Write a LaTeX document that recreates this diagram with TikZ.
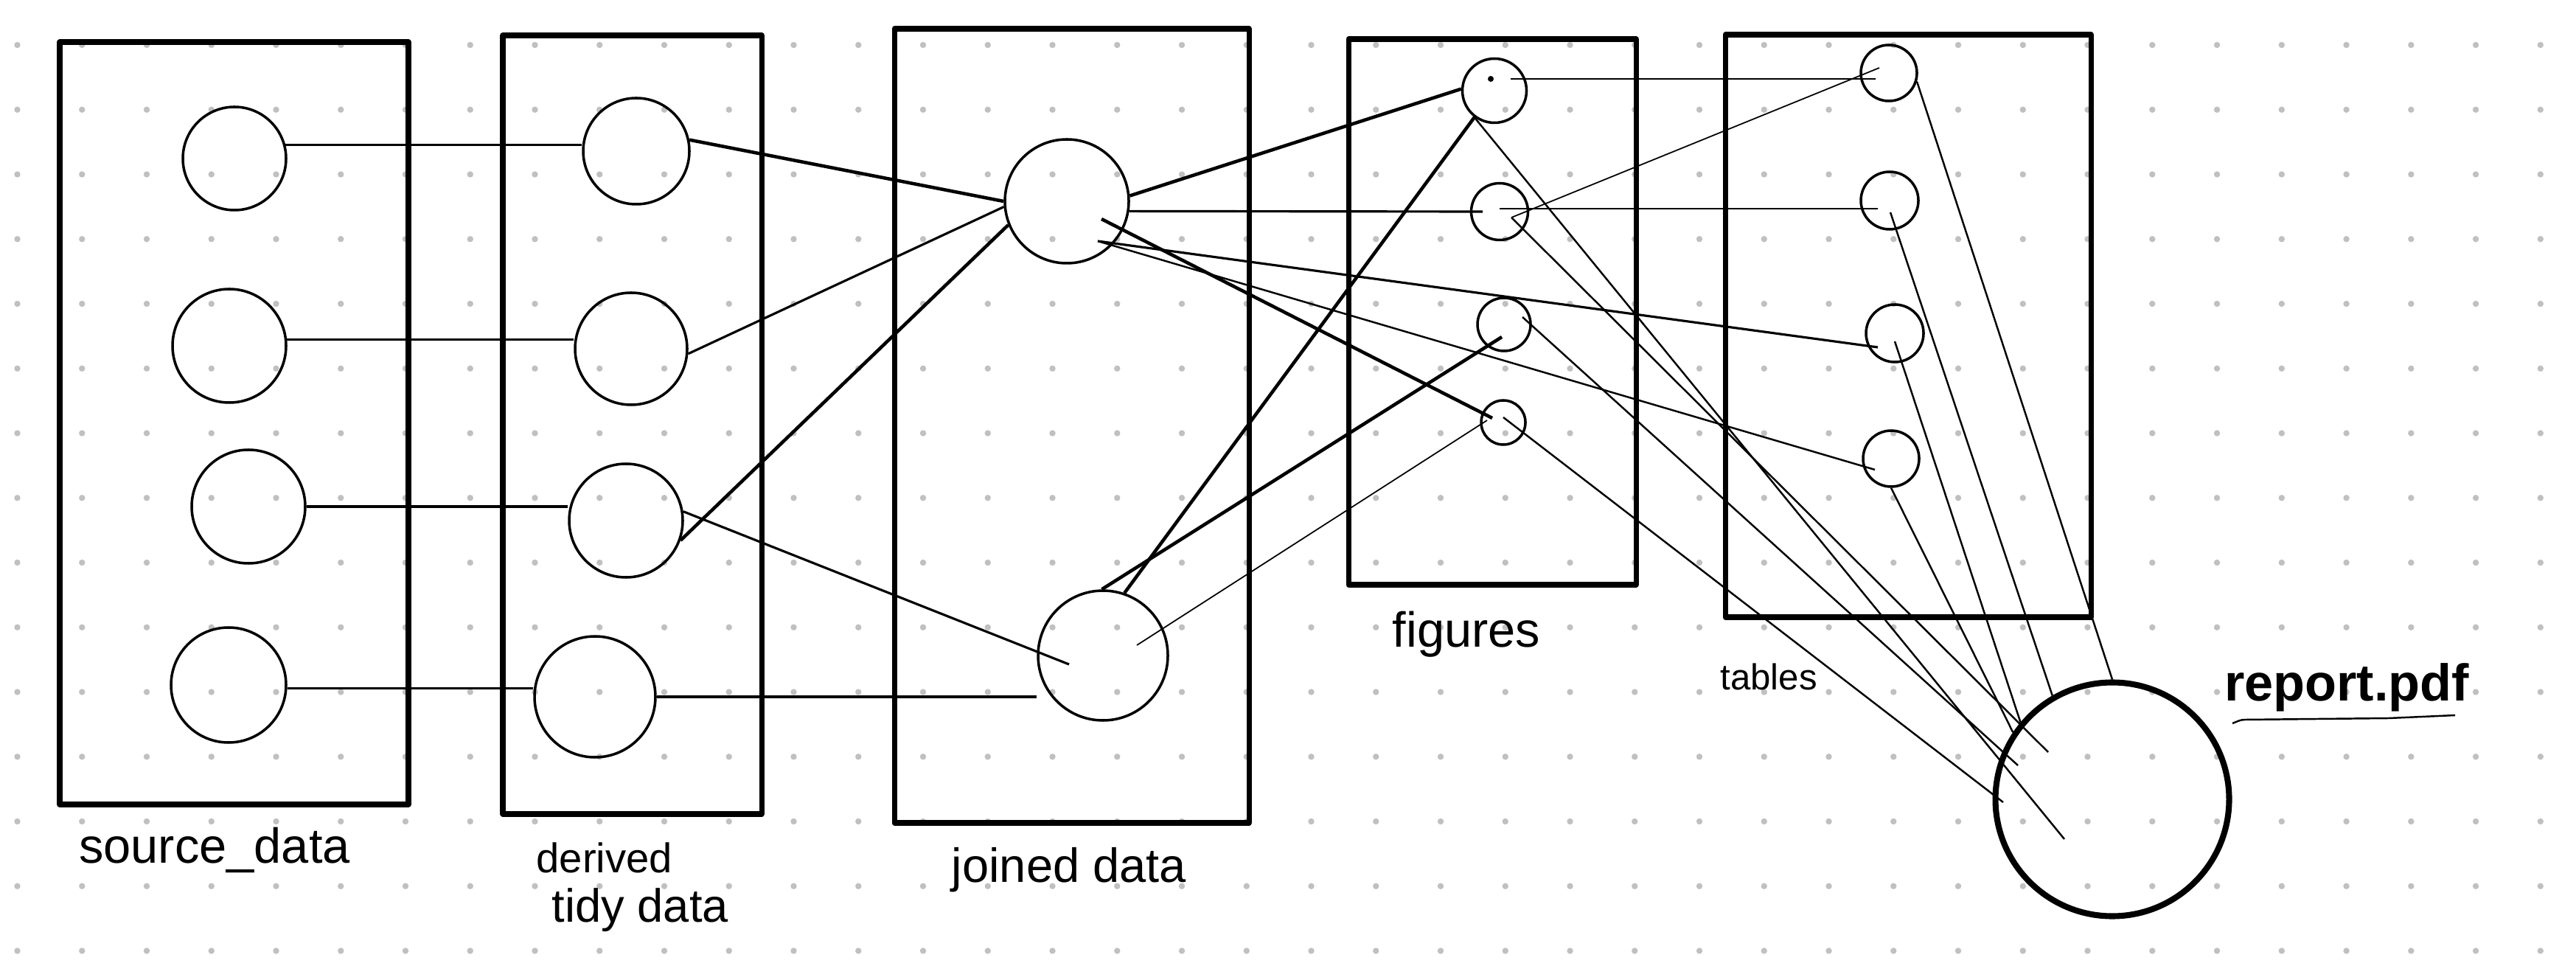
\documentclass[tikz,border=0pt]{standalone}
\usepackage{fontspec}
\setmainfont{Liberation Sans}
\definecolor{dotgray}{RGB}{192,192,192}
\begin{document}
\begin{tikzpicture}[x=1cm, y=-1cm,
    frame/.style={line width=2pt, line join=round},
    blob/.style={circle, draw, line width=1pt, inner sep=0pt, minimum size=#1},
    hairline/.style={line width=0.5pt},
    lightline/.style={line width=0.7pt},
    midline/.style={line width=0.9pt},
    heavyline/.style={line width=1.3pt},
    lbl/.style={font=\fontsize{#1}{#1}\selectfont, inner sep=0pt},
    lbl/.default=19]
    \useasboundingbox (0,0) rectangle (34.94,13.06);
    \fill[white] (0,0) rectangle (34.94,13.06);
    \foreach \i in {0,...,39}
        \foreach \j in {0,...,14}
            \fill[dotgray] (0.235+0.8775*\i, 0.61+0.8775*\j) circle (0.042);

    \draw[frame] (0.81,0.57) rectangle (5.54,10.91);
    \draw[frame] (6.82,0.48) rectangle (10.33,11.04);
    \draw[frame] (12.13,0.39) rectangle (16.94,11.16);
    \draw[frame] (18.29,0.53) rectangle (22.19,7.93);
    \draw[frame] (23.40,0.47) rectangle (28.36,8.37);

    \node[blob=1.40cm] (s1) at (3.18,2.15) {};
    \node[blob=1.54cm] (s2) at (3.11,4.69) {};
    \node[blob=1.54cm] (s3) at (3.37,6.87) {};
    \node[blob=1.56cm] (s4) at (3.10,9.29) {};
    \node[blob=1.44cm] (d1) at (8.63,2.05) {};
    \node[blob=1.52cm] (d2) at (8.56,4.73) {};
    \node[blob=1.54cm] (d3) at (8.49,7.06) {};
    \node[blob=1.64cm] (d4) at (8.07,9.45) {};
    \node[blob=1.68cm] (j1) at (14.47,2.73) {};
    \node[blob=1.76cm] (j2) at (14.96,8.89) {};
    \node[blob=0.87cm] (f1) at (20.27,1.23) {};
    \node[blob=0.77cm] (f2) at (20.34,2.87) {};
    \node[blob=0.72cm] (f3) at (20.40,4.40) {};
    \node[blob=0.60cm] (f4) at (20.39,5.73) {};
    \node[blob=0.76cm] (t1) at (25.62,0.99) {};
    \node[blob=0.78cm] (t2) at (25.63,2.72) {};
    \node[blob=0.78cm] (t3) at (25.70,4.52) {};
    \node[blob=0.76cm] (t4) at (25.65,6.22) {};
    \node[blob=3.17cm, line width=2.3pt] (rep) at (28.65,10.84) {};
    \fill ([shift={(-0.05,-0.16)}]f1.center) circle (0.04);

    \draw[midline] (s1.15) -- (s1.15 -| d1.west);
    \draw[midline] (s2.6) -- (s2.6 -| d2.west);
    \draw[midline] (s3.east) -- (s3.east -| d3.west);
    \draw[midline] (s4.357) -- (s4.357 -| d4.west);

    \draw[heavyline] (d1.12) -- (j1.west);
    \draw[midline] (d2.355) -- (j1.185);
    \draw[heavyline] (d3.340) -- (j1.202);
    \draw[midline] (d3.9) -- ([shift={(-0.46,0.12)}]j2.center);
    \draw[midline] (d4.east) -- (d4.east -| j2.west);

    \draw[heavyline] (j1.5) -- (f1.177);
    \draw[midline] (j1.351) -- ([xshift=-0.23cm]f2.center);
    \draw[heavyline] ([shift={(0.47,0.24)}]j1.center) -- ([shift={(-0.15,-0.06)}]f4.center);
    \draw[midline] ([shift={(0.42,0.54)}]j1.center) -- ([shift={(-0.23,0.19)}]t3.center);
    \draw[lightline] ([shift={(0.42,0.54)}]j1.center) -- ([shift={(-0.22,0.15)}]t4.center);
    \draw[heavyline] (j2.71) -- (f1.233);
    \draw[heavyline] (j2.91) -- ([shift={(-0.03,0.17)}]f3.center);
    \draw[hairline] ([shift={(0.46,-0.14)}]j2.center) -- ([shift={(-0.22,-0.03)}]f4.center);

    \draw[hairline] ([shift={(0.22,-0.16)}]f1.center) -- ([shift={(-0.18,0.08)}]t1.center);
    \draw[hairline] ([shift={(0.16,0.08)}]f2.center) -- ([shift={(-0.13,-0.07)}]t1.center);
    \draw[hairline] ([shift={(0,-0.04)}]f2.center) -- ([shift={(-0.16,0.11)}]t2.center);

    \draw[lightline] (f1.233) -- ([shift={(-0.65,0.54)}]rep.center);
    \draw[lightline] ([shift={(0.16,0.08)}]f2.center) -- ([shift={(-0.87,-0.64)}]rep.center);
    \draw[lightline] ([shift={(0.25,-0.10)}]f3.center) -- ([shift={(-1.28,-0.46)}]rep.center);
    \draw[lightline] ([shift={(0,-0.07)}]f4.center) -- ([shift={(-1.48,0.04)}]rep.center);
    \draw[lightline] (t1.343) -- (rep.north);
    \draw[lightline] ([shift={(0.01,0.16)}]t2.center) -- (rep.120);
    \draw[lightline] ([shift={(0,0.11)}]t3.center) -- (rep.140);
    \draw[lightline] (t4.south) -- (rep.146);

    \node[lbl, anchor=base] (srclbl) at (2.91,11.70) {source\_data};
    \node[lbl=16, anchor=base west] (derlbl) at (7.27,11.83) {derived};
    \node[lbl=18, anchor=base west] (tidylbl) at (7.48,12.50) {tidy data};
    \node[lbl=18.5, anchor=base] (joinlbl) at (14.50,11.96) {joined data};
    \node[lbl, anchor=base] (figlbl) at (19.89,8.77) {figures};
    \node[lbl=14, anchor=base] (tablbl) at (23.99,9.35) {tables};
    \node[lbl=20, anchor=base] (replbl) at (31.83,9.50) {\textbf{report.pdf}};
    \draw[lightline] (30.28,9.81) to[out=20, in=180] (30.45,9.76) -- (32.40,9.74) -- (33.30,9.70);
\end{tikzpicture}
\end{document}
